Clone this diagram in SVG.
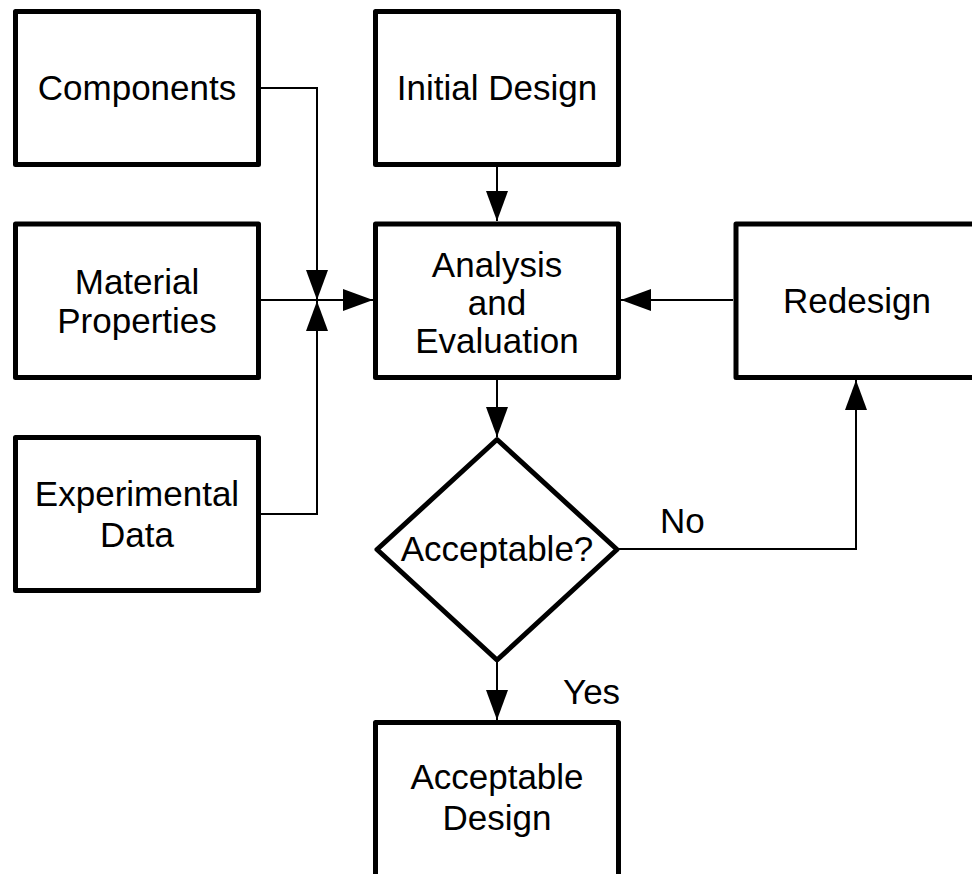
<svg xmlns="http://www.w3.org/2000/svg" width="972" height="874" viewBox="0 0 972 874">
<defs>
<style>
.box{fill:#fff;stroke:#000;stroke-width:5;stroke-linejoin:round}
.conn{fill:none;stroke:#000;stroke-width:2}
text{font-family:"Liberation Sans",Arial,sans-serif;font-size:35px;fill:#000;text-anchor:middle}
.lbl{text-anchor:start}
</style>
<marker id="ah" viewBox="0 0 30 22" refX="30" refY="11" markerWidth="30" markerHeight="22" markerUnits="userSpaceOnUse" orient="auto">
<path d="M0,0 L30,11 L0,22 Z" fill="#000"/>
</marker>
</defs>
<rect width="972" height="874" fill="#fff"/>
<g id="connectors">
<path class="conn" d="M261,88 H317 V300" marker-end="url(#ah)"/>
<path class="conn" d="M261,300 H373" marker-end="url(#ah)"/>
<path class="conn" d="M261,514 H317 V301" marker-end="url(#ah)"/>
<path class="conn" d="M497,167 V221" marker-end="url(#ah)"/>
<path class="conn" d="M497,380 V437" marker-end="url(#ah)"/>
<path class="conn" d="M733,300 H621" marker-end="url(#ah)"/>
<path class="conn" d="M619,549 H856 V380" marker-end="url(#ah)"/>
<path class="conn" d="M497,662 V720" marker-end="url(#ah)"/>
</g>
<g id="components"><rect class="box" x="15.5" y="11.5" width="243" height="153"/><text x="137" y="100">Components</text></g>
<g id="material"><rect class="box" x="15.5" y="224" width="243" height="153.5"/><text x="137" y="294">Material</text><text x="137" y="333">Properties</text></g>
<g id="experimental"><rect class="box" x="15.5" y="437.5" width="243" height="153"/><text x="137" y="506">Experimental</text><text x="137" y="547">Data</text></g>
<g id="initial"><rect class="box" x="375.5" y="11.5" width="243" height="153"/><text x="497" y="100">Initial Design</text></g>
<g id="analysis"><rect class="box" x="375.5" y="224" width="243" height="153.5"/><text x="497" y="277">Analysis</text><text x="497" y="315">and</text><text x="497" y="353">Evaluation</text></g>
<g id="redesign"><rect class="box" x="736" y="224" width="243" height="153.5"/><text x="857" y="313">Redesign</text></g>
<g id="decision"><path class="box" d="M497,439.5 L617,549.5 L497,660 L377,549.5 Z"/><text x="497" y="561">Acceptable?</text></g>
<g id="final"><rect class="box" x="375.5" y="722.5" width="243" height="160"/><text x="497" y="789">Acceptable</text><text x="497" y="830">Design</text></g>
<g id="labels"><text class="lbl" x="660" y="533">No</text><text class="lbl" x="563" y="704">Yes</text></g>
</svg>
